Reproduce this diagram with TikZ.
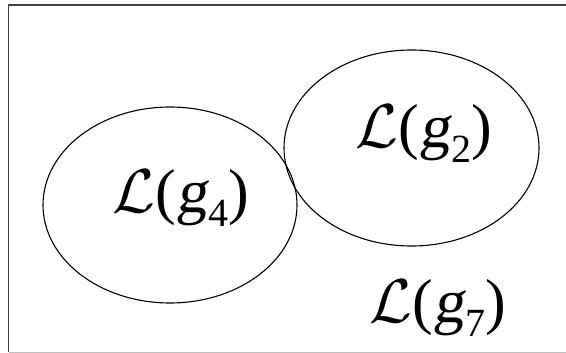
\RequirePackage{fix-cm}
\documentclass[tikz,border=0pt]{standalone}
\usepackage{fontspec}
\setmainfont{Liberation Serif}
\newfontfamily\slantg[FakeSlant=0.15]{Liberation Serif}
\usetikzlibrary{shapes.geometric}
\newcommand\Lsub[1]{$\mathcal{L}$({\slantg g}\kern1.5pt\raisebox{-0.5ex}{\fontsize{40}{40}\selectfont #1})}
\begin{document}
\begin{tikzpicture}[x=1pt,y=-1pt,
  setbox/.style={draw=black,line width=1.1pt,ellipse,inner sep=0pt},
  lab/.style={inner sep=0pt,font=\fontsize{62}{62}\selectfont,anchor=base}]
\useasboundingbox (0,0) rectangle (566,353);
\draw[line width=1.6pt,draw=black!75] (566,5) -- (8.5,5) -- (8.5,352);
\draw[line width=1pt,draw=black!25] (8.5,352) -- (566,352);
\node[setbox,minimum width=254pt,minimum height=196pt] (e4) at (170,205) {};
\node[setbox,minimum width=255pt,minimum height=196pt] (e2) at (411.5,148) {};
\node[lab] (t4) at (181,212) {\Lsub{4}};
\node[lab] (t2) at (424,148) {\Lsub{2}};
\node[lab] (t7) at (438,322) {\Lsub{7}};
\end{tikzpicture}
\end{document}
